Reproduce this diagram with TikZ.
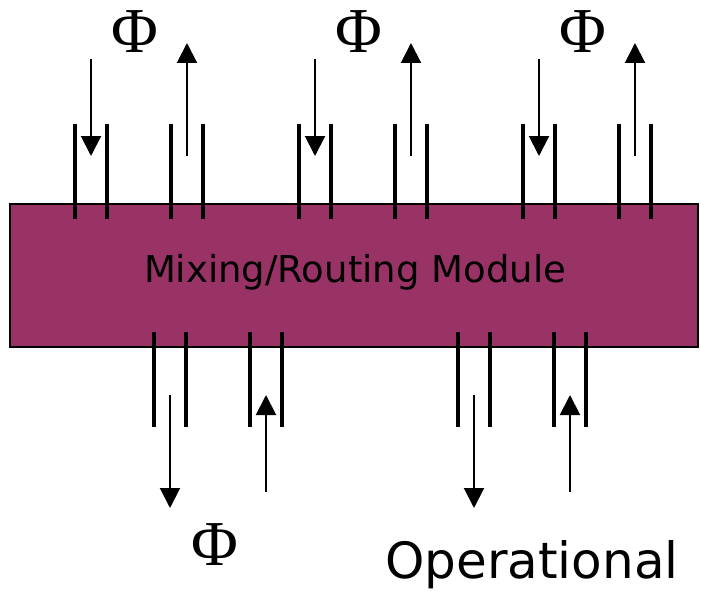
\documentclass[tikz,border=0pt]{standalone}
\usepackage{fontspec}
\setmainfont{Liberation Serif}
\newfontfamily\labelfont{DejaVu Sans}
\usetikzlibrary{arrows.meta}
\definecolor{plum}{HTML}{993366}
\tikzset{
  module/.style={draw=black, line width=2pt, fill=plum},
  portwall/.style={line width=4.2pt, draw=black},
  flow/.style={line width=2pt, -{Triangle[length=20pt,width=20pt]}},
  phi/.style={font=\fontsize{64}{64}\selectfont, inner sep=0pt},
}
\begin{document}
\begin{tikzpicture}[x=1pt,y=-1pt]
\useasboundingbox (0,0) rectangle (701,594);

% the module body
\draw[module] (10,204) rectangle (698,347);
\node[font=\labelfont\fontsize{37}{37}\selectfont, inner sep=0pt] (label) at (355,272) {Mixing/Routing Module};

% top ports: each group is an input channel (down) and an output channel (up)
\foreach \i/\dx in {1/0, 2/224, 3/448} {
  \draw[portwall] (75+\dx,124) -- (75+\dx,219);
  \draw[portwall] (107+\dx,124) -- (107+\dx,219);
  \draw[portwall] (171+\dx,124) -- (171+\dx,219);
  \draw[portwall] (203+\dx,124) -- (203+\dx,219);
  \coordinate (tin\i s) at (91+\dx,59);
  \coordinate (tin\i e) at (91+\dx,156);
  \coordinate (tout\i s) at (187+\dx,156);
  \coordinate (tout\i e) at (187+\dx,43);
  \draw[flow] (tin\i s) -- (tin\i e);
  \draw[flow] (tout\i s) -- (tout\i e);
  \node[phi] (phitop\i) at (135+\dx,32) {Φ};
}

% bottom ports
\foreach \i/\dx in {1/0, 2/304} {
  \draw[portwall] (154+\dx,332) -- (154+\dx,427);
  \draw[portwall] (186+\dx,332) -- (186+\dx,427);
  \draw[portwall] (250+\dx,332) -- (250+\dx,427);
  \draw[portwall] (282+\dx,332) -- (282+\dx,427);
  \coordinate (bout\i s) at (170+\dx,395);
  \coordinate (bout\i e) at (170+\dx,508);
  \coordinate (bin\i s) at (266+\dx,492);
  \coordinate (bin\i e) at (266+\dx,395);
  \draw[flow] (bout\i s) -- (bout\i e);
  \draw[flow] (bin\i s) -- (bin\i e);
}

\node[phi] (phibot) at (215,545) {Φ};
\node[font=\labelfont\fontsize{50}{50}\selectfont, inner sep=0pt, anchor=base west] (oper) at (385,578) {Operational};
\end{tikzpicture}
\end{document}
